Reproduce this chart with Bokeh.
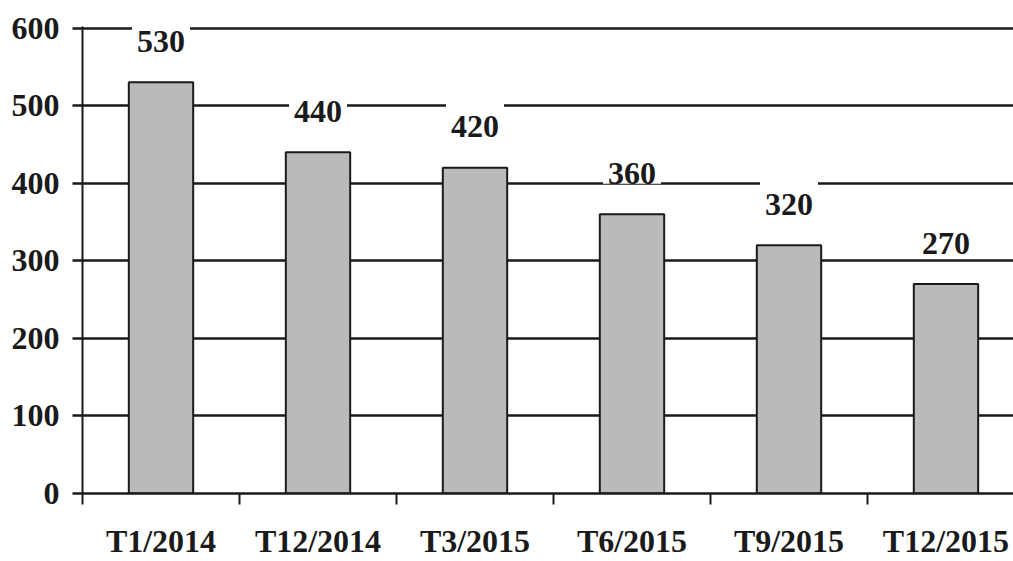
from bokeh.plotting import figure
from bokeh.models import (Range1d, LinearAxis, FixedTicker, Grid,
                          ColumnDataSource)
from bokeh.core.properties import value
from bokeh.embed import file_html
from bokeh.resources import INLINE

categories = ["T1/2014", "T12/2014", "T3/2015", "T6/2015", "T9/2015", "T12/2015"]
values = [530, 440, 420, 360, 320, 270]
y_ticks = [0, 100, 200, 300, 400, 500, 600]

centers = [i + 0.5 for i in range(len(categories))]
bounds = list(range(len(categories) + 1))

FONT = value("Liberation Serif")
INK = "#1a1a1a"
FS = "32px"

src = ColumnDataSource(dict(x=centers, top=values,
                            label=[str(v) for v in values]))

p = figure(width=1013, height=561,
           x_range=Range1d(0, 5.93), y_range=Range1d(0, 602),
           x_axis_type=None, y_axis_type=None,
           output_backend="svg", toolbar_location=None,
           min_border_left=82, min_border_right=0,
           min_border_top=26, min_border_bottom=66)
p.outline_line_color = None
p.background_fill_color = "white"
p.border_fill_color = "white"

yaxis = LinearAxis(ticker=FixedTicker(ticks=y_ticks))
yaxis.axis_line_color = INK
yaxis.axis_line_width = 2
yaxis.major_tick_line_color = INK
yaxis.major_tick_line_width = 2.5
yaxis.major_tick_in = 0
yaxis.major_tick_out = 10
yaxis.minor_tick_line_color = None
yaxis.major_label_standoff = 13
yaxis.major_label_text_font = "Liberation Serif"
yaxis.major_label_text_font_style = "bold"
yaxis.major_label_text_font_size = FS
yaxis.major_label_text_color = INK
p.add_layout(yaxis, "left")

grid = Grid(dimension=1, ticker=FixedTicker(ticks=y_ticks))
grid.grid_line_color = INK
grid.grid_line_width = 2.5
p.add_layout(grid)

xaxis = LinearAxis(ticker=FixedTicker(ticks=centers, minor_ticks=bounds))
xaxis.major_label_overrides = {c: name for c, name in zip(centers, categories)}
xaxis.axis_line_color = INK
xaxis.axis_line_width = 2.5
xaxis.major_tick_line_color = None
xaxis.major_tick_in = 0
xaxis.major_tick_out = 0
xaxis.minor_tick_line_color = INK
xaxis.minor_tick_line_width = 2
xaxis.minor_tick_in = 0
xaxis.minor_tick_out = 11
xaxis.major_label_standoff = 18
xaxis.major_label_text_font = "Liberation Serif"
xaxis.major_label_text_font_style = "bold"
xaxis.major_label_text_font_size = FS
xaxis.major_label_text_line_height = 1.0
xaxis.major_label_text_color = INK
p.add_layout(xaxis, "below")

p.vbar(x="x", top="top", bottom=0, width=0.41, source=src,
       fill_color="#bababa", line_color=INK, line_width=2)

p.text(x="x", y="top", text="label", source=src,
       y_offset=-50, text_align="center", text_baseline="middle",
       text_font=FONT, text_font_style="bold",
       text_font_size=FS, text_color=INK,
       background_fill_color="white",
       padding=dict(left=5, right=5, top=18, bottom=0))

open("out.html", "w").write(file_html(p, INLINE))
